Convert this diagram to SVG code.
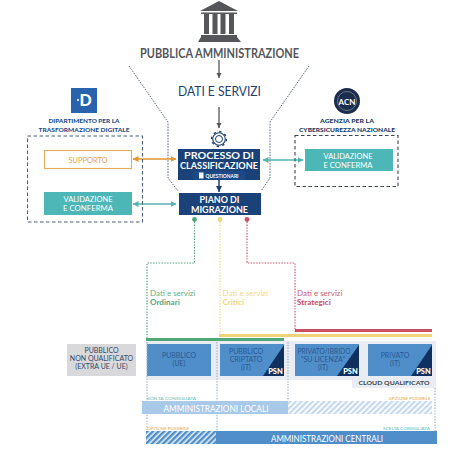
<svg xmlns="http://www.w3.org/2000/svg" width="453" height="449" viewBox="0 0 453 449">
<style>
text{font-family:"Lato","Liberation Sans",sans-serif;text-anchor:middle}
.navy{fill:#1f3e70}.gr{fill:#55565a}
.w{fill:#fff;font-weight:700}
.lab{font-size:8.2px;fill:#fff}
.bl{fill:#4f8ec9}
.tx{font-size:7px;fill:#2a5a95}
.psn{font-size:7.5px;font-weight:900;fill:#fff}
.tri{fill:#10305f}
.dot{fill:none;stroke-width:1.2;stroke-dasharray:1.4 1.4}
.fun{fill:none;stroke:#4a5a70;stroke-width:.9;stroke-dasharray:1.6 1.2}
.dash{fill:none;stroke:#4b5f78;stroke-width:1.1;stroke-dasharray:3.5 2.5}
.hd{font-size:6.4px;font-weight:900;fill:#1f4f8c}
.sm{font-size:4.6px}
</style>
<defs>
<pattern id="h1" width="4" height="4" patternUnits="userSpaceOnUse" patternTransform="rotate(45)"><rect width="4" height="4" fill="#fff"/><rect width="2.2" height="4" fill="#c4d9ee"/></pattern>
<pattern id="h2" width="4" height="4" patternUnits="userSpaceOnUse" patternTransform="rotate(45)"><rect width="4" height="4" fill="#e3eef8"/><rect width="2.4" height="4" fill="#4f8ec9"/></pattern>
<marker id="aD" markerWidth="6" markerHeight="6" refX="5" refY="3" orient="auto-start-reverse" markerUnits="userSpaceOnUse"><path d="M0 .5L5 3L0 5.5z" fill="#55565a"/></marker>
<marker id="aN" markerWidth="7" markerHeight="7" refX="6" refY="3.5" orient="auto" markerUnits="userSpaceOnUse"><path d="M0 .5L6 3.5L0 6.5z" fill="#1f3e70"/></marker>
<marker id="aO" markerWidth="7" markerHeight="7" refX="5.5" refY="3.5" orient="auto-start-reverse" markerUnits="userSpaceOnUse"><path d="M0 .5L6 3.5L0 6.5z" fill="#e2962f"/></marker>
<marker id="aT" markerWidth="7" markerHeight="7" refX="5.5" refY="3.5" orient="auto-start-reverse" markerUnits="userSpaceOnUse"><path d="M0 .5L6 3.5L0 6.5z" fill="#55b3b3"/></marker>
</defs>

<g id="connectors">
<path class="fun" d="M129 66L168 122V178L178 191"/>
<path class="fun" d="M309 66L270 122V178L261 191"/>
<path d="M219 60V78" stroke="#55565a" stroke-width="1.300" marker-end="url(#aD)"/>
<path d="M219 107V128" stroke="#55565a" stroke-width="1.300" marker-end="url(#aD)"/>
<path d="M219 180V192" stroke="#1f3e70" stroke-width="1.500" marker-end="url(#aN)"/>
<path d="M133 159H176" stroke="#e2962f" stroke-width="1.600" marker-start="url(#aO)" marker-end="url(#aO)"/>
<path d="M133 204H176" stroke="#55b3b3" stroke-width="1.300" marker-start="url(#aT)" marker-end="url(#aT)"/>
<path d="M263 160H303" stroke="#55b3b3" stroke-width="1.300" marker-start="url(#aT)" marker-end="url(#aT)"/>
<path class="dot" stroke="#4fa57c" d="M194.500 219V263H147V338"/>
<path class="dot" stroke="#f0d67a" d="M220 219V334"/>
<path class="dot" stroke="#c8506a" d="M247 219V263H295V329"/>
<circle cx="194.500" cy="219.500" r="2.400" fill="#4fa57c"/>
<circle cx="220" cy="219.500" r="2.400" fill="#f0d67a"/>
<circle cx="247" cy="219.500" r="2.400" fill="#c8506a"/>
</g>

<g id="pa">
<path class="gr" d="M219 1L238 11H200zM204 14H209V34H204zM212.500 14H217.500V34H212.500zM220.500 14H225.500V34H220.500zM229 14H234V34H229zM201 12.500H237V14H201zM201 35H237V37H201zM198 42L201 37H237L241 42z"/>
<text class="gr" x="219.500" y="58" font-size="13" font-weight="700" textLength="159" lengthAdjust="spacingAndGlyphs">PUBBLICA AMMINISTRAZIONE</text>
</g>

<g id="dati"><text class="navy" x="219.500" y="96" font-size="13" textLength="83" lengthAdjust="spacingAndGlyphs">DATI E SERVIZI</text></g>

<g id="gear" fill="none" stroke="#1f3e70">
<circle cx="219" cy="139" r="3.500" stroke-width="1"/>
<circle cx="219" cy="139" r="6.300" stroke-width="1.100"/>
<circle cx="219" cy="139" r="7.400" stroke-width="1.500" stroke-dasharray="2.300 3.500"/>
</g>

<g id="processo">
<rect x="178" y="149" width="82" height="31" fill="#1a4178"/>
<text class="w" x="219" y="158.500" font-size="9.400" textLength="70" lengthAdjust="spacingAndGlyphs">PROCESSO DI</text>
<text class="w" x="219" y="168.500" font-size="9.400" textLength="78" lengthAdjust="spacingAndGlyphs">CLASSIFICAZIONE</text>
<rect x="193" y="171" width="52" height="9" fill="#1a4a8a"/>
<rect x="199" y="172.500" width="4.500" height="6" fill="#fff"/>
<text class="w" x="222" y="178" font-size="5" font-weight="400" textLength="33" lengthAdjust="spacingAndGlyphs">QUESTIONARI</text>
</g>

<g id="piano">
<rect x="179" y="193" width="82" height="22" fill="#1a4178"/>
<text class="w" x="219.500" y="202.500" font-size="9.400" textLength="40" lengthAdjust="spacingAndGlyphs">PIANO DI</text>
<text class="w" x="219.500" y="212.500" font-size="9.400" textLength="57" lengthAdjust="spacingAndGlyphs">MIGRAZIONE</text>
</g>

<g id="dtd">
<rect x="71" y="88" width="26" height="25" fill="#2a63ad"/>
<text x="85.500" y="106" font-size="16" font-weight="900" fill="#fff">D</text>
<circle cx="78" cy="100" r="1.100" fill="#fff"/>
<text class="hd" x="84" y="123" textLength="71" lengthAdjust="spacingAndGlyphs">DIPARTIMENTO PER LA</text>
<text class="hd" x="84" y="131.500" textLength="91" lengthAdjust="spacingAndGlyphs">TRASFORMAZIONE DIGITALE</text>
<rect class="dash" x="27.500" y="136" width="115" height="86"/>
</g>

<g id="supporto">
<rect x="44.500" y="150.500" width="87" height="18" fill="#fff" stroke="#e6ad5e" stroke-width="1.100"/>
<text x="88" y="162.500" font-size="7.200" fill="#e6a24a" textLength="39" lengthAdjust="spacingAndGlyphs">SUPPORTO</text>
</g>

<g id="validazione-dtd">
<rect x="44" y="192" width="88" height="23" fill="#4db6b6"/>
<text class="lab" x="88" y="202" textLength="49" lengthAdjust="spacingAndGlyphs">VALIDAZIONE</text>
<text class="lab" x="88" y="211" textLength="50" lengthAdjust="spacingAndGlyphs">E CONFERMA</text>
</g>

<g id="acn">
<circle cx="347" cy="101" r="13" fill="#1c2c4c"/>
<circle cx="347" cy="101" r="9.500" fill="none" stroke="#7e8796" stroke-width=".8"/>
<text x="347" y="105" font-size="8" font-weight="700" fill="#fff">ACN</text>
<text class="hd" x="347" y="123" style="fill:#1a3a66" textLength="54" lengthAdjust="spacingAndGlyphs">AGENZIA PER LA</text>
<text class="hd" x="347" y="131.500" style="fill:#1a3a66" textLength="96" lengthAdjust="spacingAndGlyphs">CYBERSICUREZZA NAZIONALE</text>
<rect x="295" y="135.500" width="103" height="51" fill="none" stroke="#3c4654" stroke-width="1.100" stroke-dasharray="3.500 2.500"/>
</g>

<g id="validazione-acn">
<rect x="305" y="149" width="88" height="22" fill="#4db6b6"/>
<text class="lab" x="348" y="158.500" textLength="49" lengthAdjust="spacingAndGlyphs">VALIDAZIONE</text>
<text class="lab" x="348" y="167.500" textLength="49" lengthAdjust="spacingAndGlyphs">E CONFERMA</text>
</g>

<g id="ordinari" fill="#5fae8a">
<text x="150" y="296" font-size="8" style="text-anchor:start">Dati e servizi</text>
<text x="150" y="304.500" font-size="8" font-weight="900" style="text-anchor:start">Ordinari</text>
</g>
<g id="critici" fill="#f0d98c">
<text x="222.500" y="296" font-size="8" style="text-anchor:start">Dati e servizi</text>
<text x="222.500" y="304.500" font-size="8" font-weight="900" style="text-anchor:start">Critici</text>
</g>
<g id="strategici" fill="#cc5a72">
<text x="297" y="296" font-size="8" style="text-anchor:start">Dati e servizi</text>
<text x="297" y="304.500" font-size="8" font-weight="900" style="text-anchor:start">Strategici</text>
</g>

<g id="bars">
<rect x="295" y="329" width="137" height="3" fill="#c8505f"/>
<rect x="219" y="334" width="213" height="3" fill="#efd27a"/>
<rect x="146" y="338" width="138" height="3" fill="#4fa878"/>
</g>

<g id="cloud">
<rect x="146" y="341" width="290" height="39" fill="#e9edf3"/>
<rect x="352" y="376" width="84" height="12" fill="#e9edf3"/>
<text x="394" y="385" font-size="6.200" font-weight="700" fill="#3b4652" textLength="71" lengthAdjust="spacingAndGlyphs">CLOUD QUALIFICATO</text>
</g>

<g id="pubblico-nq">
<rect x="67" y="344" width="69" height="32" fill="#d9d9db"/>
<g class="tx" style="fill:#33486a">
<text x="101.500" y="353">PUBBLICO</text>
<text x="101.500" y="361">NON QUALIFICATO</text>
<text x="101.500" y="369">(EXTRA UE / UE)</text>
</g>
</g>

<g id="pubblico-ue">
<rect class="bl" x="147" y="344" width="64" height="32"/>
<text class="tx" x="179" y="358">PUBBLICO</text>
<text class="tx" x="179" y="366">(UE)</text>
</g>

<g id="pubblico-criptato">
<rect class="bl" x="220" y="344" width="64" height="32"/>
<path class="tri" d="M284 345V376H263z"/>
<text class="tx" x="246" y="354">PUBBLICO</text>
<text class="tx" x="246" y="362">CRIPTATO</text>
<text class="tx" x="246" y="370">(IT)</text>
<text class="psn" x="275.500" y="374">PSN</text>
</g>

<g id="privato-ibrido">
<rect class="bl" x="295" y="344" width="64" height="32"/>
<path class="tri" d="M359 345V376H337z"/>
<text class="tx" x="324" y="354" textLength="53" lengthAdjust="spacingAndGlyphs">PRIVATO/IBRIDO</text>
<text class="tx" x="323" y="362">“SU LICENZA”</text>
<text class="tx" x="323" y="370">(IT)</text>
<text class="psn" x="350.500" y="374">PSN</text>
</g>

<g id="privato">
<rect class="bl" x="368" y="344" width="64" height="32"/>
<path class="tri" d="M432 345V376H411z"/>
<text class="tx" x="395" y="358">PRIVATO</text>
<text class="tx" x="395" y="366">(IT)</text>
<text class="psn" x="423.500" y="374">PSN</text>
</g>

<g id="guides">
<path class="dot" stroke="#9fb4c8" d="M147 342V431M217 342V431M288 342V401M435 388V431"/>
</g>

<g id="locali">
<rect x="142" y="401" width="146" height="13" fill="#a9c9e8"/>
<rect x="288" y="401" width="144" height="13" fill="url(#h1)"/>
<text x="216" y="411.500" font-size="9" fill="#fff" textLength="105" lengthAdjust="spacingAndGlyphs">AMMINISTRAZIONI LOCALI</text>
<text class="sm" x="171.500" y="400" fill="#58b8b0" textLength="49" lengthAdjust="spacingAndGlyphs">SCELTA CONSIGLIATA</text>
<text class="sm" x="409.500" y="400" fill="#e6a24a" textLength="42" lengthAdjust="spacingAndGlyphs">OPZIONE POSSIBILE</text>
</g>

<g id="centrali">
<rect x="146" y="431" width="70" height="13" fill="url(#h2)"/>
<rect x="216" y="431" width="221" height="13" fill="#4f8ec9"/>
<text x="327" y="441.500" font-size="9" fill="#fff" textLength="112" lengthAdjust="spacingAndGlyphs">AMMINISTRAZIONI CENTRALI</text>
<text class="sm" x="168" y="429.500" fill="#e6a24a" textLength="42" lengthAdjust="spacingAndGlyphs">OPZIONE POSSIBILE</text>
<text class="sm" x="406.500" y="429.500" fill="#58b8b0" textLength="47" lengthAdjust="spacingAndGlyphs">SCELTA CONSIGLIATA</text>
</g>
</svg>
